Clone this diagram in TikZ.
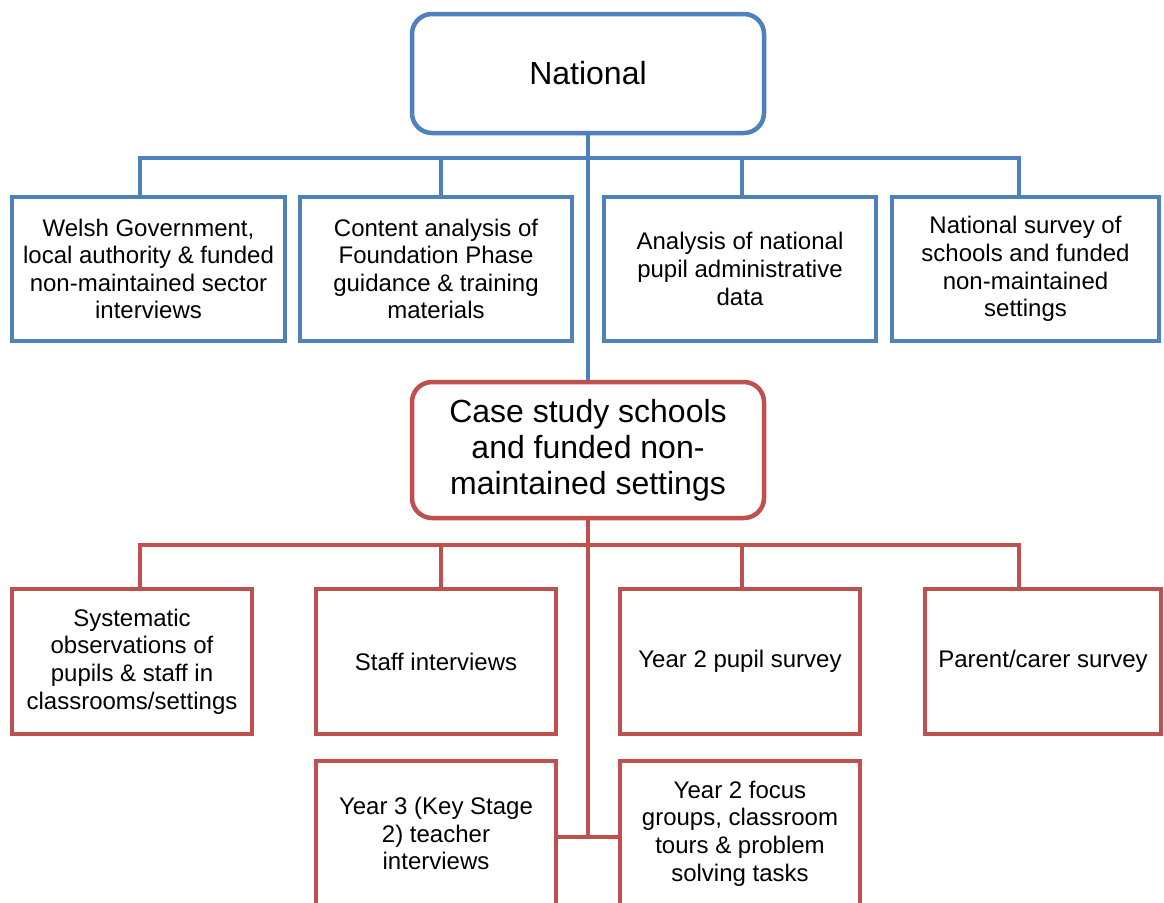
\documentclass[tikz,border=0pt]{standalone}
\usepackage{fontspec}
\setmainfont{Liberation Sans}
\usetikzlibrary{calc}
\definecolor{bluec}{RGB}{79,129,189}
\definecolor{redc}{RGB}{192,80,77}

\begin{document}
\begin{tikzpicture}
      [x=1pt,y=-1pt
      ,txt/.style={align=center,inner sep=0pt,font=\fontsize{24}{27.6}\selectfont}
      ,bbox/.style={txt,draw=bluec,line width=4.5pt,minimum width=272pt,minimum height=144pt}
      ,rbox/.style={txt,draw=redc,line width=4.5pt,minimum width=240pt,minimum height=145pt}
      ,head/.style={rounded corners=20pt,line width=4.5pt,inner sep=0pt,align=center,minimum width=352pt,font=\fontsize{32}{36}\selectfont}
      ,blin/.style={draw=bluec,line width=4.5pt}
      ,rlin/.style={draw=redc,line width=4.5pt}
      ]
        \useasboundingbox (0,0) rectangle (1164,902);
        \clip (0,0) rectangle (1164,902);
        \fill[white] (0,0) rectangle (1164,902);
        % the two heads
        \node[head,draw=bluec,minimum height=119pt] (nat) at (588,73.5) {National};
        \node[head,draw=redc,minimum height=136pt] (case) at (588,450) {Case study schools\\and funded non-\\maintained settings};
        % national strand
        \node[bbox,minimum width=273pt] (wg) at (148.5,269) {Welsh Government,\\local authority \& funded\\non-maintained sector\\interviews};
        \node[bbox] (ca) at (436,269) {Content analysis of\\Foundation Phase\\guidance \& training\\materials};
        \node[bbox] (an) at (740,269) {Analysis of national\\pupil administrative\\data};
        \node[bbox,minimum width=267pt] (ns) at (1025.5,269) {National survey of\\schools and funded\\non-maintained\\settings};
        % case study strand
        \node[rbox] (so) at (132,661.5) {Systematic\\observations of\\pupils \& staff in\\classrooms/settings};
        \node[rbox] (si) at (436,661.5) {Staff interviews};
        \node[rbox] (ps) at (740,661.5) {Year 2 pupil survey};
        \node[rbox,minimum width=236pt] (pc) at (1043,661.5) {Parent/carer survey};
        \node[rbox] (ti) at (436,833.5) {Year 3 (Key Stage\\2) teacher\\interviews};
        \node[rbox] (fg) at (740,833.5) {Year 2 focus\\groups, classroom\\tours \& problem\\solving tasks};
        % junctions
        \foreach \n/\x in {wg/140,ca/441,an/742,ns/1019}{
          \coordinate (b-\n) at (\x,158);
        }
        \foreach \n/\x in {so/140,si/441,ps/742,pc/1019}{
          \coordinate (r-\n) at (\x,545);
        }
        \coordinate (hub) at (588,837);
        % blue lines
        \draw[blin] (nat.south) -- (case.north);
        \draw[blin] (b-wg |- wg.north) -- (b-wg) -- (b-ns) -- (b-ns |- ns.north);
        \draw[blin] (b-ca) -- (b-ca |- ca.north);
        \draw[blin] (b-an) -- (b-an |- an.north);
        % red lines
        \draw[rlin] (case.south) -- (hub);
        \draw[rlin] (r-so |- so.north) -- (r-so) -- (r-pc) -- (r-pc |- pc.north);
        \draw[rlin] (r-si) -- (r-si |- si.north);
        \draw[rlin] (r-ps) -- (r-ps |- ps.north);
        \draw[rlin] (hub -| ti.east) -- (hub -| fg.west);
      \end{tikzpicture}
\end{document}
